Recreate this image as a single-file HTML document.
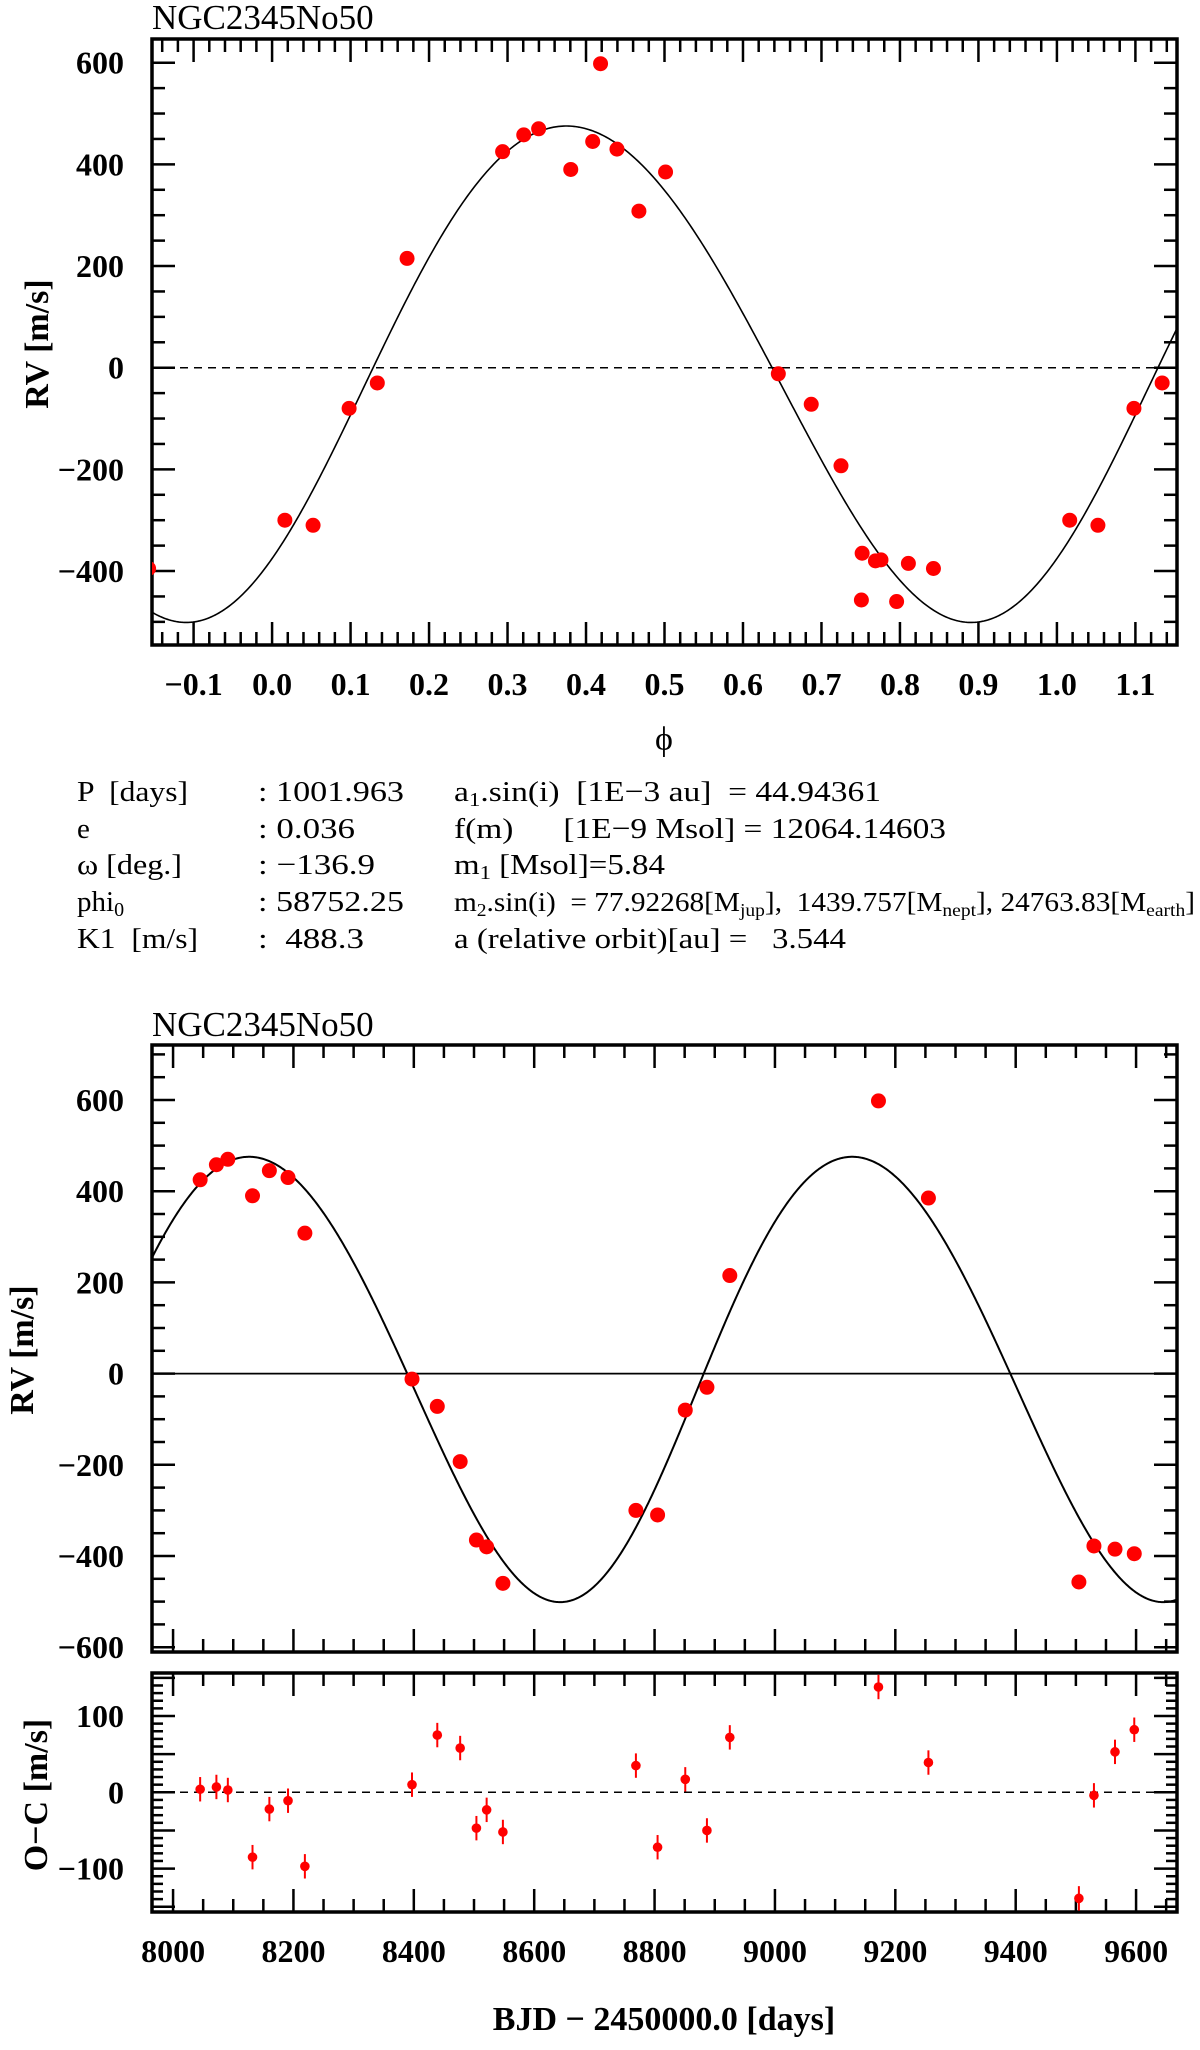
<!DOCTYPE html>
<html><head><meta charset="utf-8"><style>
html,body{margin:0;padding:0;background:#fff;}
svg{display:block;font-family:"Liberation Serif",serif;}
</style></head><body>
<svg id="chart" xmlns="http://www.w3.org/2000/svg" width="1200" height="2050" viewBox="0 0 1200 2050">
<text x="152" y="29" font-size="35">NGC2345No50</text>
<text x="152" y="1036" font-size="35">NGC2345No50</text>
<text transform="translate(48,344) rotate(-90)" text-anchor="middle" font-size="34" font-weight="bold">RV [m/s]</text>
<text transform="translate(33,1350) rotate(-90)" text-anchor="middle" font-size="34" font-weight="bold">RV [m/s]</text>
<text transform="translate(47,1795) rotate(-90)" text-anchor="middle" font-size="34" font-weight="bold">O−C [m/s]</text>
<text x="664" y="750" text-anchor="middle" font-size="34">ϕ</text>
<text x="664" y="2030" text-anchor="middle" font-size="34" font-weight="bold">BJD − 2450000.0 [days]</text>
<g font-size="29">
<text x="77" y="801" textLength="111" lengthAdjust="spacingAndGlyphs" xml:space="preserve">P  [days]</text>
<text x="77" y="838">e</text>
<text x="77" y="874" textLength="105" lengthAdjust="spacingAndGlyphs">ω [deg.]</text>
<text x="77" y="911">phi<tspan font-size="20" dy="5">0</tspan></text>
<text x="77" y="948" textLength="121" lengthAdjust="spacingAndGlyphs" xml:space="preserve">K1  [m/s]</text>
<text x="258" y="801" textLength="146" lengthAdjust="spacingAndGlyphs">: 1001.963</text>
<text x="258" y="838" textLength="97" lengthAdjust="spacingAndGlyphs">: 0.036</text>
<text x="258" y="874" textLength="117" lengthAdjust="spacingAndGlyphs">: −136.9</text>
<text x="258" y="911" textLength="146" lengthAdjust="spacingAndGlyphs">: 58752.25</text>
<text x="258" y="948" textLength="106" lengthAdjust="spacingAndGlyphs" xml:space="preserve">:  488.3</text>
<text x="454" y="801" textLength="427" lengthAdjust="spacingAndGlyphs" xml:space="preserve">a<tspan font-size="20" dy="5">1</tspan><tspan dy="-5">.sin(i)  [1E−3 au]  = 44.94361</tspan></text>
<text x="454" y="838" textLength="492" lengthAdjust="spacingAndGlyphs" xml:space="preserve">f(m)      [1E−9 Msol] = 12064.14603</text>
<text x="454" y="874" textLength="211" lengthAdjust="spacingAndGlyphs">m<tspan font-size="20" dy="5">1</tspan><tspan dy="-5"> [Msol]=5.84</tspan></text>
<text x="454" y="911" font-size="27" textLength="741" lengthAdjust="spacingAndGlyphs" xml:space="preserve">m<tspan font-size="18" dy="5">2</tspan><tspan dy="-5">.sin(i)  = 77.92268[M</tspan><tspan font-size="18" dy="5">jup</tspan><tspan dy="-5">],  1439.757[M</tspan><tspan font-size="18" dy="5">nept</tspan><tspan dy="-5">], 24763.83[M</tspan><tspan font-size="18" dy="5">earth</tspan><tspan dy="-5">]</tspan></text>
<text x="454" y="948" textLength="392" lengthAdjust="spacingAndGlyphs" xml:space="preserve">a (relative orbit)[au] =   3.544</text>
</g>
</svg>
<script>
const times = [8045,8072,8091,8132,8160,8191,8219,8397,8439,8477,8504,8521,8548,8769,8805,8851,8887,8925,9172,9255,9505,9530,9565,9597];
const rvValues = [425,458,470,390,445,430,308,-12,-72,-193,-365,-380,-460,-300,-310,-80,-30,215,598,385,-457,-378,-385,-395];
const ocValues = [4,7,3,-85,-22,-11,-97,10,75,58,-47,-23,-52,35,-72,17,-50,72,138,39,-139,-4,53,82];
const ocErrors = [16,16,16,16,16,16,16,16,16,16,16,16,16,16,16,16,16,16,16,16,16,16,16,16];
const phaseTicks = ["-0.1","0.0","0.1","0.2","0.3","0.4","0.5","0.6","0.7","0.8","0.9","1.0","1.1"];
const rvTicksTop = [-400,-200,0,200,400,600];
const rvTicksBottom = [-600,-400,-200,0,200,400,600];
const ocTicks = [-100,0,100];
const timeTicks = [8000,8200,8400,8600,8800,9000,9200,9400,9600];
const PERIOD = 1001.963, ECC = 0.036, OMEGA = -136.9, K1 = 488.3, T0 = 7750.7, PHASE_MAX = 0.375;

const NS = "http://www.w3.org/2000/svg";
const svg = document.getElementById('chart');
function mk(tag, attrs, parent){const e=document.createElementNS(NS,tag);for(const k in attrs)e.setAttribute(k,attrs[k]);(parent||svg).appendChild(e);return e;}

const w = OMEGA*Math.PI/180;
function solveE(M){let E=M;for(let i=0;i<30;i++)E=E-(E-ECC*Math.sin(E)-M)/(1-ECC*Math.cos(E));return E;}
function rvFromM(M){const E=solveE(M);const nu=2*Math.atan2(Math.sqrt(1+ECC)*Math.sin(E/2),Math.sqrt(1-ECC)*Math.cos(E/2));return K1*(Math.cos(nu+w)+ECC*Math.cos(w));}
const nuMax=-w; const Emax=2*Math.atan(Math.sqrt((1-ECC)/(1+ECC))*Math.tan(nuMax/2)); const Mmax=Emax-ECC*Math.sin(Emax);
function rvAtPhase(ph){return rvFromM(2*Math.PI*(ph-PHASE_MAX)+Mmax);}
function phaseOf(t){let p=((t-T0)/PERIOD)%1;if(p<0)p+=1;return p;}

const P1={x0:152,x1:1177,y0:39,y1:645,xmin:-0.153,xmax:1.153, yv:[600,62.7,0,367.7]};
const P2={x0:152,x1:1177,y0:1045,y1:1652,xmin:7965,xmax:9668, yv:[600,1100,0,1373.6]};
const P3={x0:152,x1:1177,y0:1673,y1:1912,xmin:7965,xmax:9668, yv:[100,1716,0,1792.3]};
function xs(P,v){return P.x0+(v-P.xmin)/(P.xmax-P.xmin)*(P.x1-P.x0);}
function ys(P,v){const s=(P.yv[3]-P.yv[1])/(P.yv[0]-P.yv[2]);return P.yv[3]-v*s;}
function yinv(P,py){const s=(P.yv[3]-P.yv[1])/(P.yv[0]-P.yv[2]);return (P.yv[3]-py)/s;}

function clip(P,id){const d=mk('defs',{});const c=mk('clipPath',{id:id},d);mk('rect',{x:P.x0,y:P.y0,width:P.x1-P.x0,height:P.y1-P.y0},c);}
clip(P1,'c1');clip(P2,'c2');clip(P3,'c3');

function ticksX(P,step,majorEvery,lenMaj,lenMin,name){
  const g=mk('g',{stroke:'#000','stroke-width':2.5});
  
  
  const start=Math.ceil(P.xmin/step), end=Math.floor(P.xmax/step);
  for(let i=start;i<=end;i++){const v=i*step;const x=xs(P,v);const maj=(Math.abs(Math.round(i))%majorEvery===0);const L=maj?lenMaj:lenMin;
    mk('line',{x1:x,x2:x,y1:P.y1,y2:P.y1-L},g);mk('line',{x1:x,x2:x,y1:P.y0,y2:P.y0+L},g);}
}
function ticksY(P,step,majorEvery,lenMaj,lenMin,name){
  const g=mk('g',{stroke:'#000','stroke-width':2.5});
  
  
  const vmin=yinv(P,P.y1), vmax=yinv(P,P.y0);
  const start=Math.ceil(vmin/step), end=Math.floor(vmax/step);
  for(let i=start;i<=end;i++){const y=ys(P,i*step);const maj=(Math.abs(i)%majorEvery===0);const L=maj?lenMaj:lenMin;
    mk('line',{x1:P.x0,x2:P.x0+L,y1:y,y2:y},g);mk('line',{x1:P.x1,x2:P.x1-L,y1:y,y2:y},g);}
}
function frame(P,name){const r=mk('rect',{x:P.x0,y:P.y0,width:P.x1-P.x0,height:P.y1-P.y0,fill:'none',stroke:'#000','stroke-width':3.5});
  
  }
function yLabels(P,vals,name){const g=mk('g',{'font-size':32,'font-weight':'bold','text-anchor':'end'});
  
  
  vals.forEach(v=>{const t=mk('text',{x:124,y:ys(P,v)+11},g);t.textContent=(v<0?'−':'')+Math.abs(v);});}

ticksX(P1,0.02,5,23,13,'phase-x-ticks');
ticksY(P1,50,4,23,13,'phase-y-ticks');
frame(P1,'phase-plot-frame');
yLabels(P1,rvTicksTop,'phase-y-tick-labels');
{const g=mk('g',{'font-size':32,'font-weight':'bold','text-anchor':'middle'});
 
 
 phaseTicks.forEach(s=>{const t=mk('text',{x:xs(P1,parseFloat(s)),y:695},g);t.textContent=s.replace('-','−');});}
{const l=mk('line',{x1:P1.x0,x2:P1.x1,y1:ys(P1,0),y2:ys(P1,0),stroke:'#000','stroke-width':1.5,'stroke-dasharray':'8,6'});
 
 }
{let d='';for(let i=0;i<=600;i++){const ph=P1.xmin+(P1.xmax-P1.xmin)*i/600;d+=(i?'L':'M')+xs(P1,ph).toFixed(2)+','+ys(P1,rvAtPhase(ph)).toFixed(2);}
 const p=mk('path',{d:d,fill:'none',stroke:'#000','stroke-width':1.6,'clip-path':'url(#c1)'});
 
 }
{const g=mk('g',{fill:'#ff0000','clip-path':'url(#c1)'});
 
 
 times.forEach((t,i)=>{const ph=phaseOf(t);[ph-1,ph,ph+1].forEach(p=>{if(p>P1.xmin-0.02&&p<P1.xmax+0.02){
   const c=mk('circle',{cx:xs(P1,p),cy:ys(P1,rvValues[i]),r:7.5},g);
   
   }});});}

ticksX(P2,50,4,23,13,'time-x-ticks');
ticksY(P2,50,4,23,13,'time-y-ticks');
frame(P2,'time-plot-frame');
yLabels(P2,rvTicksBottom,'time-y-tick-labels');
{const l=mk('line',{x1:P2.x0,x2:P2.x1,y1:ys(P2,0),y2:ys(P2,0),stroke:'#000','stroke-width':1.8});
 
 }
{let d='';for(let i=0;i<=1000;i++){const t=P2.xmin+(P2.xmax-P2.xmin)*i/1000;d+=(i?'L':'M')+xs(P2,t).toFixed(2)+','+ys(P2,rvAtPhase((t-T0)/PERIOD)).toFixed(2);}
 const p=mk('path',{d:d,fill:'none',stroke:'#000','stroke-width':2,'clip-path':'url(#c2)'});
 
 }
{const g=mk('g',{fill:'#ff0000','clip-path':'url(#c2)'});
 
 
 times.forEach((t,i)=>{const c=mk('circle',{cx:xs(P2,t),cy:ys(P2,rvValues[i]),r:7.5},g);
   
   });}

ticksX(P3,50,4,23,13,'oc-x-ticks');
ticksY(P3,10,5,23,11,'oc-y-ticks');
frame(P3,'oc-plot-frame');
yLabels(P3,ocTicks,'oc-y-tick-labels');
{const l=mk('line',{x1:P3.x0,x2:P3.x1,y1:ys(P3,0),y2:ys(P3,0),stroke:'#000','stroke-width':1.5,'stroke-dasharray':'8,6'});
 
 }
{const g=mk('g',{'font-size':32,'font-weight':'bold','text-anchor':'middle'});
 
 
 timeTicks.forEach(v=>{const t=mk('text',{x:xs(P3,v),y:1962},g);t.textContent=v;});}
{const g=mk('g',{fill:'#ff0000','clip-path':'url(#c3)'});
 
 
 times.forEach((t,i)=>{const x=xs(P3,t);
   const e=mk('line',{x1:x,x2:x,y1:ys(P3,ocValues[i]+ocErrors[i]),y2:ys(P3,ocValues[i]-ocErrors[i]),stroke:'#ff0000','stroke-width':2},g);
   
   
   const c=mk('circle',{cx:x,cy:ys(P3,ocValues[i]),r:4.8},g);
   
   });}
</script>
</body></html>
